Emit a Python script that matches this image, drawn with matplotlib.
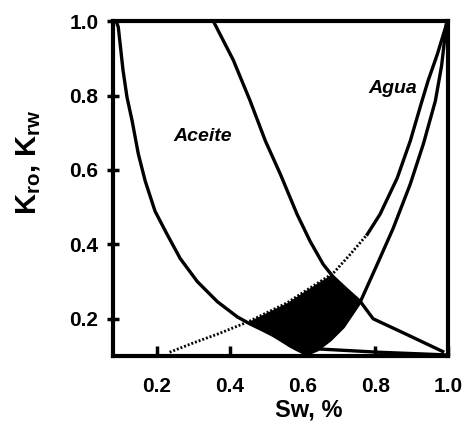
import numpy as np
import matplotlib.pyplot as plt
import matplotlib

matplotlib.rcParams['font.family'] = ['Liberation Sans', 'DejaVu Sans']
matplotlib.rcParams['font.weight'] = 'bold'
matplotlib.rcParams['axes.labelweight'] = 'bold'
matplotlib.rcParams['mathtext.fontset'] = 'custom'
matplotlib.rcParams['mathtext.rm'] = 'Liberation Sans:bold'
matplotlib.rcParams['mathtext.bf'] = 'Liberation Sans:bold'

# curva izquierda (aceite, primera)
sw_a = [0.088, 0.094, 0.107, 0.118, 0.132, 0.149, 0.168, 0.195, 0.228, 0.264,
        0.311, 0.366, 0.421, 0.456, 0.49, 0.52, 0.545, 0.566, 0.585, 0.60,
        0.64, 0.81, 0.99]
k_a = [1.0, 0.984, 0.868, 0.795, 0.732, 0.643, 0.57, 0.489, 0.427, 0.362,
       0.30, 0.246, 0.205, 0.186, 0.17, 0.155, 0.14, 0.127, 0.117, 0.11,
       0.119, 0.11, 0.103]

# curva de aceite (segunda)
sw_b = [0.355, 0.41, 0.456, 0.498, 0.539, 0.585, 0.621, 0.657, 0.684, 0.72,
        0.759, 0.794, 0.888, 0.985]
k_b = [1.0, 0.895, 0.786, 0.678, 0.589, 0.481, 0.408, 0.346, 0.313, 0.28,
       0.246, 0.20, 0.157, 0.112]

# agua (curva con tramo punteado)
sw_w1 = [0.235, 0.30, 0.37, 0.451, 0.558, 0.613, 0.684, 0.731, 0.778, 0.813,
         0.86, 0.896, 0.925, 0.945, 0.97, 0.995]
k_w1 = [0.11, 0.135, 0.16, 0.192, 0.243, 0.278, 0.322, 0.373, 0.427, 0.481,
        0.578, 0.678, 0.775, 0.84, 0.91, 0.99]

# agua (curva continua)
sw_w2 = [0.60, 0.64, 0.676, 0.712, 0.759, 0.805, 0.849, 0.896, 0.932, 0.965,
         0.982, 0.995]
k_w2 = [0.10, 0.116, 0.143, 0.178, 0.246, 0.346, 0.443, 0.562, 0.67, 0.786,
        0.88, 0.99]

x_ticks = [0.2, 0.4, 0.6, 0.8, 1.0]
y_ticks = [0.2, 0.4, 0.6, 0.8, 1.0]

fig = plt.figure(figsize=(4.62, 4.40), dpi=100)
ax = fig.add_axes([0.245, 0.191, 0.725, 0.761])

lw = 2.4
ax.plot(sw_a, k_a, color='black', lw=lw, solid_joinstyle='round')
ax.plot(sw_b, k_b, color='black', lw=lw, solid_joinstyle='round')
ax.plot(sw_w2, k_w2, color='black', lw=lw, solid_joinstyle='round')

# tramo punteado y continuo de la primera curva de agua
sw_w1 = np.array(sw_w1)
k_w1 = np.array(k_w1)
corte = 8
ax.plot(sw_w1[:corte + 1], k_w1[:corte + 1], color='black', lw=2.0,
        linestyle=(0, (0.7, 0.7)))
ax.plot(sw_w1[corte:], k_w1[corte:], color='black', lw=lw, solid_joinstyle='round')

# zona sombreada entre las curvas
xs = np.linspace(0.451, 0.759, 400)
inf = np.maximum(np.interp(xs, sw_a, k_a), np.interp(xs, sw_w2, k_w2, left=0.1))
sup = np.minimum(np.interp(xs, sw_w1, k_w1), np.interp(xs, sw_b, k_b))
ax.fill_between(xs, inf, sup, where=sup >= inf, color='black', lw=0.5,
                edgecolor='black')

ax.text(0.325, 0.69, 'Aceite', fontsize=14, fontstyle='italic',
        fontweight='bold', ha='center', va='center')
ax.text(0.847, 0.82, 'Agua', fontsize=14, fontstyle='italic',
        fontweight='bold', ha='center', va='center')

ax.set_xlim(0.08, 1.0)
ax.set_ylim(0.1, 1.0)
ax.set_xticks(x_ticks)
ax.set_yticks(y_ticks)
ax.set_xticklabels([f'{v:.1f}' for v in x_ticks])
ax.set_yticklabels([f'{v:.1f}' for v in y_ticks])
ax.tick_params(axis='x', direction='in', length=7, width=2.5, pad=15, labelsize=15)
ax.tick_params(axis='y', direction='inout', length=9, width=2.5, pad=6, labelsize=15)

for s in ax.spines.values():
    s.set_linewidth(3)

ax.set_xlabel('Sw, %', fontsize=17, fontweight='bold')
ax.xaxis.set_label_coords(0.585, -0.128)
ax.set_ylabel(r'K$_{\mathbf{ro}}$, K$_{\mathbf{rw}}$', fontsize=21, fontweight='bold')
ax.yaxis.set_label_coords(-0.209, 0.579)

fig.savefig('out.png', dpi=100, facecolor='white')
